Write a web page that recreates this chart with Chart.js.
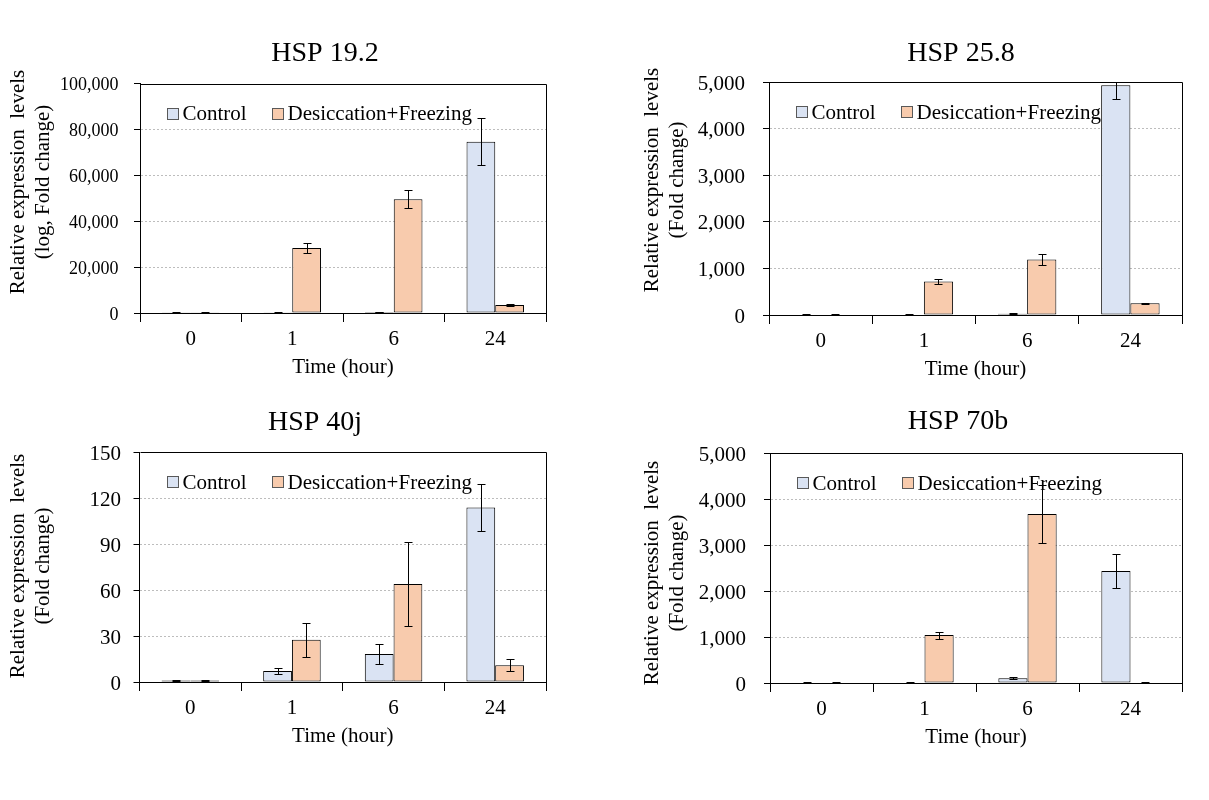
<!DOCTYPE html>
<html>
<head>
<meta charset="utf-8">
<title>HSP expression</title>
<script src="https://cdn.jsdelivr.net/npm/chart.js@4.4.1/dist/chart.umd.min.js"></script>
<style>
  body { margin: 0; background: #fff; }
  #wrap { position: relative; width: 1209px; height: 800px; }
  canvas { position: absolute; }
</style>
</head>
<body>
<div id="wrap">
  <canvas id="hsp192" width="604" height="390" style="left:0;top:0"></canvas>
  <canvas id="hsp258" width="605" height="390" style="left:604px;top:0"></canvas>
  <canvas id="hsp40j" width="604" height="410" style="left:0;top:390px"></canvas>
  <canvas id="hsp70b" width="605" height="410" style="left:604px;top:390px"></canvas>
</div>
<script>
// categories and series
const hours = ['0', '1', '6', '24'];
const seriesNames = ['Control', 'Desiccation+Freezing'];

// HSP 19.2
const hsp192Control = [300, 300, 400, 74600];
const hsp192ControlErr = [100, 100, 100, 10200];
const hsp192Stress = [300, 28300, 49600, 3500];
const hsp192StressErr = [100, 2300, 3800, 300];

// HSP 25.8
const hsp258Control = [10, 10, 25, 4935];
const hsp258ControlErr = [2, 3, 10, 300];
const hsp258Stress = [10, 720, 1195, 250];
const hsp258StressErr = [2, 50, 118, 15];

// HSP 40j
const hsp40jControl = [1, 7.2, 18.3, 114];
const hsp40jControlErr = [0.3, 2, 6.5, 15.5];
const hsp40jStress = [1, 27.6, 64, 11];
const hsp40jStressErr = [0.3, 11.2, 27.5, 4];

// HSP 70b
const hsp70bControl = [10, 10, 105, 2435];
const hsp70bControlErr = [2, 2, 20, 380];
const hsp70bStress = [10, 1043, 3674, 12];
const hsp70bStressErr = [2, 76, 627, 3];

const serif = '"Liberation Serif", "Times New Roman", serif';
const controlFill = '#dae3f3';
const stressFill = '#f8cbad';

Chart.defaults.font.family = serif;
Chart.defaults.color = '#000';

// legend drawn inside the plot area, like the original
const insideLegend = {
  id: 'insideLegend',
  afterDatasetsDraw(chart) {
    const ctx = chart.ctx;
    const a = chart.chartArea;
    const y = a.top + 29;
    const offsets = [27, 132];
    ctx.save();
    ctx.font = '21px ' + serif;
    ctx.textBaseline = 'middle';
    ctx.textAlign = 'left';
    chart.data.datasets.forEach((ds, i) => {
      const x = Math.round(a.left + offsets[i]) + 0.5;
      const top = Math.round(y - 5) + 0.5;
      ctx.fillStyle = ds.backgroundColor;
      ctx.fillRect(x, top, 11, 11);
      ctx.strokeStyle = '#595959';
      ctx.lineWidth = 1;
      ctx.strokeRect(x, top, 11, 11);
      ctx.fillStyle = '#000';
      ctx.fillText(ds.label, x + 15, y + 2);
    });
    ctx.restore();
  }
};

// error bars (value +/- err) on every bar
const errorBars = {
  id: 'errorBars',
  afterDatasetsDraw(chart) {
    const ctx = chart.ctx;
    const a = chart.chartArea;
    const yScale = chart.scales.y;
    ctx.save();
    ctx.beginPath();
    ctx.rect(a.left, a.top, a.right - a.left, a.bottom - a.top);
    ctx.clip();
    ctx.strokeStyle = '#000';
    ctx.lineWidth = 1;
    chart.data.datasets.forEach((ds, i) => {
      chart.getDatasetMeta(i).data.forEach((bar, j) => {
        const v = ds.data[j];
        const e = ds.errors[j];
        const x = Math.round(bar.x) + 0.5;
        const hi = Math.round(yScale.getPixelForValue(v + e)) + 0.5;
        const lo = Math.round(yScale.getPixelForValue(v - e)) + 0.5;
        ctx.beginPath();
        ctx.moveTo(x, hi); ctx.lineTo(x, lo);
        ctx.moveTo(x - 4, hi); ctx.lineTo(x + 4, hi);
        ctx.moveTo(x - 4, lo); ctx.lineTo(x + 4, lo);
        ctx.stroke();
      });
    });
    ctx.restore();
  }
};

// box around the plot, panel title and the two-line y axis title
const panelText = {
  id: 'panelText',
  afterDraw(chart, args, opts) {
    const ctx = chart.ctx;
    const a = chart.chartArea;
    const l = Math.round(a.left) + 0.5, t = Math.round(a.top) + 0.5;
    const r = Math.round(a.right) + 0.5, b = Math.round(a.bottom) + 0.5;
    ctx.save();
    ctx.strokeStyle = '#000';
    ctx.lineWidth = 1;
    ctx.beginPath();
    ctx.moveTo(l, t); ctx.lineTo(r, t); ctx.lineTo(r, b);
    ctx.stroke();
    ctx.fillStyle = '#000';
    ctx.textAlign = 'center';
    ctx.textBaseline = 'middle';
    ctx.font = '28px ' + serif;
    ctx.fillText(opts.title, opts.titleX, opts.titleY);
    ctx.font = '21px ' + serif;
    ctx.translate(opts.yTitleX, opts.yTitleY);
    ctx.rotate(-Math.PI / 2);
    opts.yTitle.forEach((line, i) => ctx.fillText(line, 0, i * 25));
    ctx.restore();
  }
};

function makePanel(id, p) {
  new Chart(document.getElementById(id), {
    type: 'bar',
    data: {
      labels: hours,
      datasets: [
        { label: seriesNames[0], data: p.control, errors: p.controlErr, backgroundColor: controlFill,
          borderColor: '#000', borderWidth: 1, borderSkipped: false, categoryPercentage: 0.566, barPercentage: 1 },
        { label: seriesNames[1], data: p.stress, errors: p.stressErr, backgroundColor: stressFill,
          borderColor: '#000', borderWidth: 1, borderSkipped: false, categoryPercentage: 0.566, barPercentage: 1 }
      ]
    },
    options: {
      responsive: false,
      animation: false,
      layout: { padding: p.padding },
      plugins: {
        legend: { display: false },
        tooltip: { enabled: false },
        panelText: { title: p.title, titleX: p.titleX, titleY: p.titleY,
                     yTitle: p.yTitle, yTitleX: p.yTitleX, yTitleY: p.yTitleY }
      },
      scales: {
        x: {
          grid: { drawOnChartArea: false, drawTicks: true, tickLength: 9, tickColor: '#000', offset: true },
          border: { color: '#000', width: 1 },
          ticks: { font: { size: 21 }, padding: 5, color: '#000', maxRotation: 0 },
          title: { display: true, text: 'Time (hour)', font: { size: 21 }, padding: 0, color: '#000' },
          afterFit(scale) { scale.height = 67.5; }
        },
        y: {
          min: 0,
          max: p.max,
          grid: {
            color: c => (c.tick && c.tick.value > 0 && c.tick.value < p.max) ? '#bdbdbd' : 'rgba(0,0,0,0)',
            tickColor: '#000', tickLength: 6, lineWidth: 1
          },
          border: { color: '#000', width: 1, dash: [2, 2] },
          ticks: { stepSize: p.step, font: { size: p.tickSize }, padding: p.tickPad, color: '#000',
                   labelOffset: 2, callback: v => v.toLocaleString('en-US') },
          afterFit(scale) { scale.width = p.yWidth; }
        }
      }
    },
    plugins: [insideLegend, errorBars, panelText]
  });
}

makePanel('hsp192', {
  control: hsp192Control, controlErr: hsp192ControlErr, stress: hsp192Stress, stressErr: hsp192StressErr,
  max: 100000, step: 20000, tickSize: 18, tickPad: 15.5, yWidth: 140,
  padding: { left: 0, top: 83.5, right: 58, bottom: 9.5 },
  title: 'HSP 19.2', titleX: 325, titleY: 54,
  yTitle: ['Relative expression  levels', '(log, Fold change)'], yTitleX: 18, yTitleY: 182
});

makePanel('hsp258', {
  control: hsp258Control, controlErr: hsp258ControlErr, stress: hsp258Stress, stressErr: hsp258StressErr,
  max: 5000, step: 1000, tickSize: 21, tickPad: 18, yWidth: 165,
  padding: { left: 0, top: 82.3, right: 27, bottom: 7.5 },
  title: 'HSP 25.8', titleX: 357, titleY: 54,
  yTitle: ['Relative expression  levels', '(Fold change)'], yTitleX: 48, yTitleY: 180
});

makePanel('hsp40j', {
  control: hsp40jControl, controlErr: hsp40jControlErr, stress: hsp40jStress, stressErr: hsp40jStressErr,
  max: 150, step: 30, tickSize: 21, tickPad: 12.6, yWidth: 139.5,
  padding: { left: 0, top: 62.3, right: 58, bottom: 50.5 },
  title: 'HSP 40j', titleX: 315, titleY: 33,
  yTitle: ['Relative expression  levels', '(Fold change)'], yTitleX: 18, yTitleY: 176
});

makePanel('hsp70b', {
  control: hsp70bControl, controlErr: hsp70bControlErr, stress: hsp70bStress, stressErr: hsp70bStressErr,
  max: 5000, step: 1000, tickSize: 21, tickPad: 18, yWidth: 166,
  padding: { left: 0, top: 63, right: 27, bottom: 49.5 },
  title: 'HSP 70b', titleX: 354, titleY: 32,
  yTitle: ['Relative expression  levels', '(Fold change)'], yTitleX: 48, yTitleY: 183
});
</script>
</body>
</html>
